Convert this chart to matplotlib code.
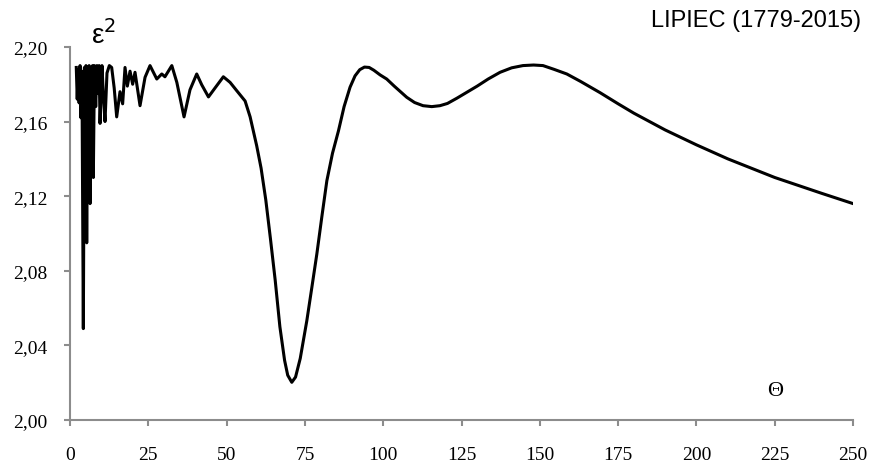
import numpy as np
import matplotlib.pyplot as plt

# okres Theta i wartosc epsilon^2
theta = [2.0, 2.3, 2.6, 2.9, 3.2, 3.5, 3.8, 4.25, 4.6, 4.9, 5.1, 5.33, 5.6, 5.9,
         6.1, 6.39, 6.7, 7.0, 7.2, 7.44, 7.8, 8.2, 8.6, 9.0, 9.3, 9.58, 10.2,
         10.7, 11.17, 11.8, 12.55, 13.3, 14.1, 14.9, 15.96, 16.8, 17.56, 18.3,
         19.16, 20.0, 20.75, 22.35, 23.95, 25.54, 27.7, 29.3, 30.3, 32.5, 34.1,
         36.4, 38.3, 40.45, 42.05, 44.2, 46.3, 48.95, 51.1, 53.2, 55.9, 57.5,
         59.6, 61.0, 62.5, 64.0, 65.5, 67.0, 68.5, 69.5, 70.8, 72.0, 73.5, 75.6,
         77.2, 78.8, 80.4, 82.0, 83.8, 85.7, 87.5, 89.4, 91.0, 92.5, 94.0, 95.5,
         97.0, 99.0, 101.1, 103.5, 105.5, 107.5, 110.0, 112.7, 115.5, 118.1,
         120.5, 123.5, 126.7, 130.0, 133.5, 137.3, 141.0, 144.6, 148.0, 151.0,
         154.5, 158.6, 163.0, 169.2, 175.0, 180.0, 185.0, 190.0, 200.0, 210.0,
         225.0, 240.0, 250.0]
eps2 = [2.189, 2.172, 2.188, 2.170, 2.190, 2.162, 2.187, 2.049, 2.189, 2.160,
        2.190, 2.095, 2.188, 2.165, 2.190, 2.116, 2.189, 2.160, 2.190, 2.130,
        2.190, 2.168, 2.190, 2.175, 2.190, 2.159, 2.190, 2.172, 2.160, 2.186,
        2.190, 2.189, 2.178, 2.1625, 2.176, 2.1695, 2.189, 2.179, 2.187, 2.180,
        2.1864, 2.1685, 2.1837, 2.190, 2.1828, 2.1855, 2.184, 2.190, 2.181,
        2.1625, 2.177, 2.1855, 2.1797, 2.1732, 2.178, 2.184, 2.181, 2.1766,
        2.171, 2.1625, 2.147, 2.135, 2.118, 2.097, 2.075, 2.050, 2.032, 2.024,
        2.0202, 2.023, 2.033, 2.0532, 2.071, 2.089, 2.109, 2.1283, 2.143, 2.155,
        2.168, 2.1784, 2.1845, 2.1878, 2.1892, 2.189, 2.1875, 2.185, 2.1828,
        2.179, 2.176, 2.173, 2.1702, 2.1685, 2.168, 2.1685, 2.1697, 2.1725,
        2.1757, 2.179, 2.1828, 2.1864, 2.1888, 2.190, 2.1903, 2.190, 2.188,
        2.1855, 2.1815, 2.1755, 2.1695, 2.1645, 2.1600, 2.1555, 2.1475, 2.1400,
        2.1300, 2.1215, 2.116]

x_ticks = [0, 25, 50, 75, 100, 125, 150, 175, 200, 225, 250]
y_ticks = [2.00, 2.04, 2.08, 2.12, 2.16, 2.20]
szary = '#8c8c8c'

fig = plt.figure(figsize=(8.72, 4.64), dpi=100)
ax = fig.add_axes([0.0803, 0.0927, 0.898, 0.804])
ax.plot(theta, eps2, color='black', lw=2.2, solid_joinstyle='round')

ax.set_xlim(0, 250)
ax.set_ylim(2.00, 2.20)
ax.set_xticks(x_ticks)
ax.set_yticks(y_ticks)
ax.set_xticklabels([str(v) for v in x_ticks], family='Liberation Serif', fontsize=14)
ax.set_yticklabels([f'{v:.2f}'.replace('.', ',') for v in y_ticks],
                   family='Liberation Serif', fontsize=14)
ax.tick_params(axis='x', direction='out', length=4, width=1.5, color=szary, pad=15)
ax.tick_params(axis='y', direction='out', length=4, width=1.5, color=szary, pad=12)
for s in ['top', 'right']:
    ax.spines[s].set_visible(False)
for s in ['left', 'bottom']:
    ax.spines[s].set_color(szary)
    ax.spines[s].set_linewidth(1.5)

fig.text(0.988, 0.955, 'LIPIEC (1779-2015)', ha='right', va='center',
         family='Liberation Sans', fontsize=17)
fig.text(0.104, 0.925, 'ε$^2$', ha='left', va='center',
         family='Liberation Sans', fontsize=20)
ax.text(225, 2.016, 'Θ', ha='center', va='center',
        family='Liberation Serif', fontsize=16)

fig.savefig('out.png', dpi=100)
